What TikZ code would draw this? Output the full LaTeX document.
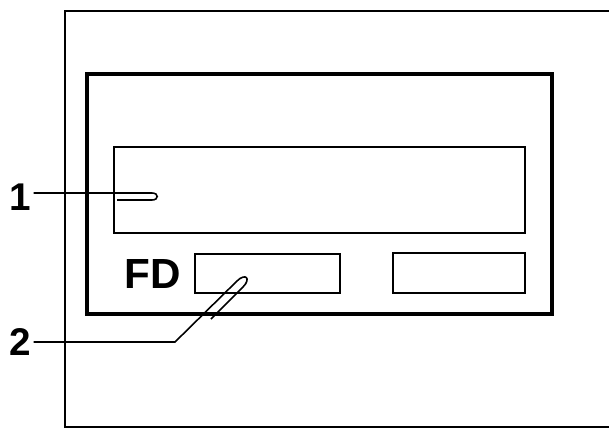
\documentclass[tikz,border=0pt]{standalone}
\usepackage{fontspec}
\setmainfont{Liberation Sans}
\usepackage{tikz}
\usetikzlibrary{positioning}

\begin{document}
\begin{tikzpicture}[x=0.02cm, y=0.02cm,
    panel/.style={draw, line width=2.4pt, inner sep=0pt, minimum width=9.3cm, minimum height=4.8cm},
    field/.style={draw, line width=1.4pt, inner sep=0pt},
    callout/.style={font=\fontsize{22}{22}\selectfont\bfseries, inner sep=1.5pt},
    leader/.style={line width=0.9pt}]
    \useasboundingbox (0,0) rectangle (609,434);

    % Frame
    \draw[line width=0.8pt] (609,423) -- (65,423) -- (65,7) -- (609,7);

    % Display and its fields
    \node[panel] (display) at (319.5,240) {};
    \node[field, minimum width=8.22cm, minimum height=1.72cm] (screen) at (319.5,244) {};
    \node[field, minimum width=2.9cm, minimum height=0.78cm] (fdfield) at (267.5,160.5) {};
    \node[field, minimum width=2.64cm, minimum height=0.8cm] (rightfield) at (459,161) {};
    \node[callout, font=\fontsize{24}{24}\selectfont\bfseries, left=0.2cm of fdfield] (fd) {FD};

    % Callouts
    \node[callout] (lbl1) at (20,237) {1};
    \node[callout] (lbl2) at (20,92) {2};
    \coordinate (tip1) at (152,241);
    \coordinate (bend2) at (175,92);
    \coordinate (tip2) at (237,153);
    \draw[leader] (lbl1.east |- tip1) -- (tip1) .. controls +(7,0) and +(7,0) .. ++(0,-7) -- (117,234);
    \draw[leader] (lbl2.east |- bend2) -- (bend2) -- (tip2) .. controls +(45:12) and +(45:12) .. ++(6,-6) -- ++(-32,-32);
\end{tikzpicture}
\end{document}
